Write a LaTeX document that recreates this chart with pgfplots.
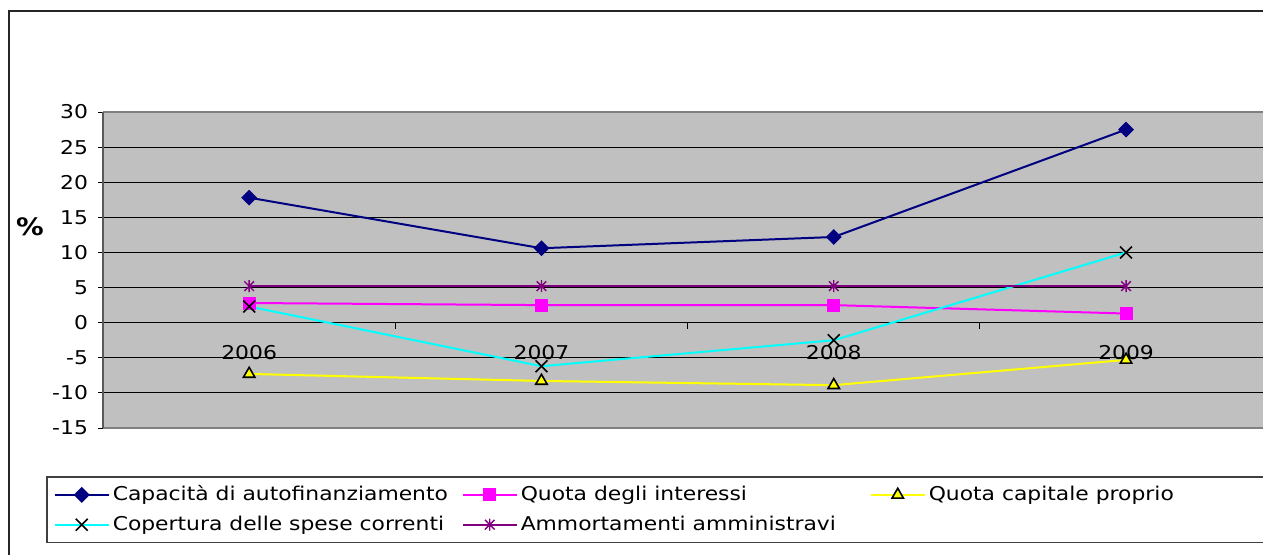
\documentclass[border=0pt]{standalone}
\usepackage{pgfplots}
\pgfplotsset{compat=1.18}
\usepackage{fontspec}
\setmainfont[FakeStretch=1.15]{DejaVu Sans}
\definecolor{cnavy}{RGB}{0,0,128}
\definecolor{cmag}{RGB}{255,0,255}
\definecolor{cyel}{RGB}{255,255,0}
\definecolor{ccyan}{RGB}{0,255,255}
\definecolor{cpurple}{RGB}{128,0,128}
\definecolor{bgray}{RGB}{192,192,192}
\pgfdeclareplotmark{xstar}{%
  \pgfpathmoveto{\pgfqpoint{0pt}{\pgfplotmarksize}}%
  \pgfpathlineto{\pgfqpoint{0pt}{-\pgfplotmarksize}}%
  \pgfpathmoveto{\pgfqpoint{-.8\pgfplotmarksize}{-.8\pgfplotmarksize}}%
  \pgfpathlineto{\pgfqpoint{.8\pgfplotmarksize}{.8\pgfplotmarksize}}%
  \pgfpathmoveto{\pgfqpoint{-.8\pgfplotmarksize}{.8\pgfplotmarksize}}%
  \pgfpathlineto{\pgfqpoint{.8\pgfplotmarksize}{-.8\pgfplotmarksize}}%
  \pgfusepathqstroke}
\begin{document}
\begin{tikzpicture}[font=\fontsize{9.5}{11}\selectfont]
\draw[line width=0.75pt, black!85] (4.5pt,-5.5pt) rectangle (700pt,-320pt);
\begin{axis}[
  at={(51.5pt,-214pt)}, anchor=south west,
  scale only axis, width=584.6pt, height=158pt,
  xmin=-0.5, xmax=3.5, ymin=-15, ymax=30,
  ytick={-15,-10,...,30},
  xtick={0,1,2,3}, xticklabels={2006,2007,2008,2009},
  x tick label style={anchor=center, yshift=40pt},
  y tick label style={xshift=-1.5pt},
  every major x tick/.append style={draw=none},
  every major y tick/.append style={black, line width=0.5pt},
  tick align=outside, major tick length=2.5pt,
  ymajorgrids, grid style={black, line width=0.5pt},
  axis background/.style={fill=bgray},
  separate axis lines,
  x axis line style={draw=gray, line width=1pt},
  y axis line style={draw=black!65, line width=1pt},
  /pgf/number format/assume math mode=true,
  ylabel={\%},
  ylabel style={rotate=-90, at={(axis description cs:-0.0624,0.636)}, anchor=center, font=\fontsize{12}{14}\selectfont\bfseries},
  legend columns=3,
  legend style={at={(axis description cs:-0.04875,-0.1519)}, anchor=north west,
    draw=black!75, line width=0.75pt, inner xsep=3.5pt, inner ysep=4.5pt,
    column sep=0pt, row sep=6pt, nodes={inner sep=0pt}},
  legend image code/.code={\draw[mark repeat=2,mark phase=2] plot coordinates {(0pt,0pt)(13.5pt,0pt)(27pt,0pt)};},
  legend cell align=left,
]
\addplot[cnavy, line width=1pt, mark=square*, mark size=2.3pt, mark options={rotate=45}]
  coordinates {(0,17.8)(1,10.6)(2,12.2)(3,27.5)};
\addlegendentry{\hspace{1.5pt}\makebox[174.5pt][l]{Capacità di autofinanziamento}}
\addplot[cmag, line width=1pt, mark=square*, mark size=2.75pt]
  coordinates {(0,2.8)(1,2.5)(2,2.5)(3,1.3)};
\addlegendentry{\hspace{1.5pt}\makebox[174.5pt][l]{Quota degli interessi}}
\addplot[cyel, line width=1pt, mark=triangle*, mark size=3.3pt, mark options={fill=cyel, draw=black, line width=0.8pt}]
  coordinates {(0,-7.3)(1,-8.3)(2,-8.9)(3,-5.3)};
\addlegendentry{\hspace{1.5pt}\makebox[200pt][l]{Quota capitale proprio}}
\addplot[ccyan, line width=1pt, mark=x, mark size=4.2pt, mark options={draw=black, line width=0.8pt}]
  coordinates {(0,2.3)(1,-6.2)(2,-2.5)(3,10.0)};
\addlegendentry{\hspace{1.5pt}Copertura delle spese correnti}
\addplot[cpurple, line width=1pt, mark=xstar, mark size=3pt, mark options={line width=0.7pt}]
  coordinates {(0,5.2)(1,5.2)(2,5.2)(3,5.2)};
\addlegendentry{\hspace{1.5pt}Ammortamenti amministravi}
\draw[black, line width=0.5pt] (axis cs:0.5,0) -- ++(0pt,-3pt);
\draw[black, line width=0.5pt] (axis cs:1.5,0) -- ++(0pt,-3pt);
\draw[black, line width=0.5pt] (axis cs:2.5,0) -- ++(0pt,-3pt);
\end{axis}
\pgfresetboundingbox
\useasboundingbox (0,0) rectangle (631.5pt,-277.5pt);
\end{tikzpicture}
\end{document}
